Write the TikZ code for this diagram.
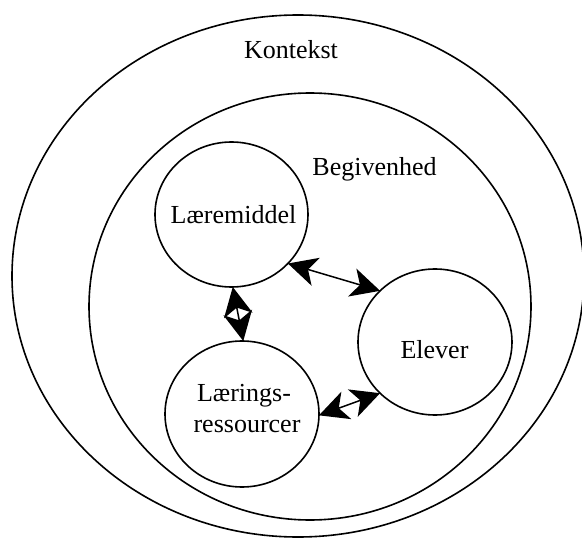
\documentclass[tikz,border=0pt]{standalone}
\usepackage{fontspec}
\setmainfont{Liberation Serif}
\usetikzlibrary{shapes.geometric,arrows.meta}
\begin{document}
\begin{tikzpicture}[x=1pt,y=-1pt,
  ring/.style={ellipse,draw,line width=1.6pt,inner sep=0pt,outer sep=0pt},
  lbl/.style={inner sep=0pt,anchor=base,font=\fontsize{26}{30}\selectfont},
  link/.style={line width=1.5pt,{Stealth[length=29pt,width=29pt,inset=8pt]}-{Stealth[length=29pt,width=29pt,inset=8pt]}}]
\useasboundingbox (0,0) rectangle (582,538);
\node[ring,minimum width=572pt,minimum height=522pt] (ctx) at (298,276) {};
\node[ring,minimum width=442pt,minimum height=427pt] (evt) at (310,306.5) {};
\node[ring,minimum width=153pt,minimum height=145pt] (lm) at (231.5,214.5) {};
\node[ring,minimum width=154pt,minimum height=146pt] (el) at (435,342) {};
\node[ring,minimum width=154pt,minimum height=146pt] (lr) at (242,414) {};
\node[lbl] (tctx) at (291,58.3) {Kontekst};
\node[lbl] (tevt) at (374.5,175.7) {Begivenhed};
\node[lbl] (tlm) at (233.5,223.7) {Læremiddel};
\node[lbl] (tel) at (434.5,358) {Elever};
\node[lbl] (tlr1) at (244,401.5) {Lærings-};
\node[lbl] (tlr2) at (247,432.4) {ressourcer};
\draw[link] (lm.-41.8) -- (el.137.7);
\draw[link] (lm.-89) -- (lr.89);
\draw[link] (lr.-1) -- (el.223.4);
\end{tikzpicture}
\end{document}
